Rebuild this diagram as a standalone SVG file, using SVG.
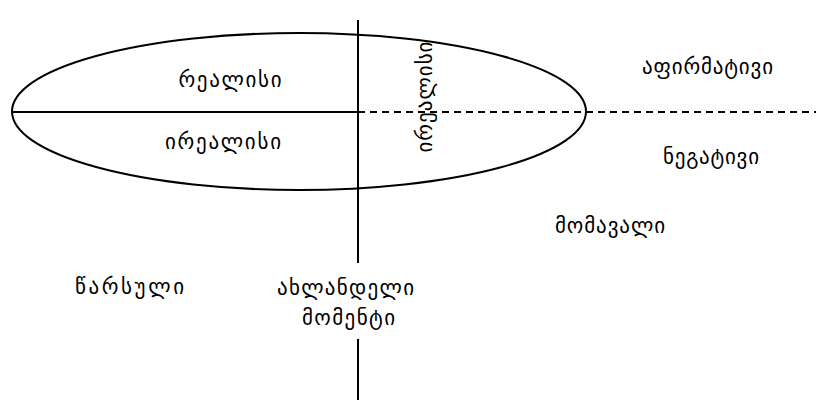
<svg xmlns="http://www.w3.org/2000/svg" width="816" height="400" viewBox="0 0 816 400">
<style>
.l{stroke:#000;stroke-width:2;fill:none}
.d{stroke:#000;stroke-width:2;fill:none;stroke-dasharray:7,5}
text{font-family:"DejaVu Sans",sans-serif;font-size:21px;fill:#000;text-anchor:middle}
</style>
<rect width="816" height="400" fill="#fff"/>
<g id="connectors">
<ellipse class="l" cx="299" cy="111.5" rx="287" ry="78.5"/>
<line class="l" x1="12" y1="112" x2="358" y2="112"/>
<line class="d" x1="358" y1="112" x2="816" y2="112"/>
<line class="l" x1="358" y1="20" x2="358" y2="263"/>
<line class="l" x1="358" y1="339" x2="358" y2="400"/>
</g>
<g id="realis"><text x="230" y="87" textLength="103" lengthAdjust="spacing">რეალისი</text></g>
<g id="irrealis"><text x="223" y="149" textLength="116" lengthAdjust="spacing">ირეალისი</text></g>
<g id="irrealis-v"><text transform="translate(432,97) rotate(-90)" textLength="111" lengthAdjust="spacing">ირეალისი</text></g>
<g id="affirmative"><text x="707.5" y="74" textLength="131" lengthAdjust="spacing">აფირმატივი</text></g>
<g id="negative"><text x="711" y="164" textLength="96" lengthAdjust="spacing">ნეგატივი</text></g>
<g id="future"><text x="610" y="233" textLength="110" lengthAdjust="spacing">მომავალი</text></g>
<g id="past"><text x="129.5" y="294" textLength="109" lengthAdjust="spacing">წარსული</text></g>
<g id="present"><text x="345.5" y="295" textLength="137" lengthAdjust="spacing">ახლანდელი</text><text x="348.5" y="325" textLength="93" lengthAdjust="spacing">მომენტი</text></g>
</svg>
